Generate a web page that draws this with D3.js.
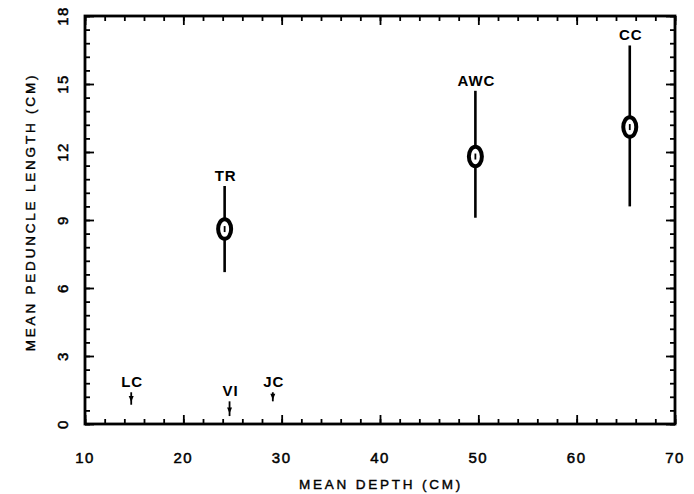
<!DOCTYPE html>
<html>
<head>
<meta charset="utf-8">
<script src="https://cdn.jsdelivr.net/npm/d3@7"></script>
<style>
  body { margin: 0; background: #fff; }
  text { fill: #000; }
</style>
</head>
<body>
<div id="chart"></div>
<script>
// site data
var sites = ["LC", "VI", "JC", "TR", "AWC", "CC"];
var depth = [14.7, 24.7, 29.1, 24.2, 49.7, 65.4];
var meanLen = [1.1, 0.6, 1.2, 8.6, 11.8, 13.1];
var lowLen = [0.85, 0.35, 1.0, 6.7, 9.1, 9.6];
var highLen = [1.4, 1.0, 1.4, 10.5, 14.7, 16.7];
// sites drawn as big ellipse markers vs small arrows
var bigMarker = [false, false, false, true, true, true];

var xTicks = [10, 20, 30, 40, 50, 60, 70];
var yTicks = [0, 3, 6, 9, 12, 15, 18];

var width = 694, height = 494;
// note: "top" is reserved on window, so use plot* names
var plotLeft = 85, plotRight = 675, plotTop = 16, plotBottom = 424;

var svg = d3.select("#chart").append("svg")
    .attr("width", width)
    .attr("height", height);

var x = d3.scaleLinear().domain([10, 70]).range([plotLeft, plotRight]);
var y = d3.scaleLinear().domain([0, 18]).range([plotBottom, plotTop]);

var xMinor = d3.range(10, 70.01, 2);
var yMinor = d3.range(0, 18.01, 0.6);

function tickAxis(axisFn, scale, values, size, tx, ty) {
    var g = svg.append("g")
        .attr("transform", "translate(" + tx + "," + ty + ")")
        .call(axisFn(scale).tickValues(values).tickSize(size).tickFormat(""));
    g.select(".domain").remove();
    g.selectAll("line").attr("stroke", "#000").attr("stroke-width", 1.8);
    return g;
}

// inward ticks on all four sides
tickAxis(d3.axisBottom, x, xMinor, -5, 0, plotBottom);
tickAxis(d3.axisBottom, x, xTicks, -9, 0, plotBottom);
tickAxis(d3.axisTop, x, xMinor, -5, 0, plotTop);
tickAxis(d3.axisTop, x, xTicks, -9, 0, plotTop);
tickAxis(d3.axisLeft, y, yMinor, -5, plotLeft, 0);
tickAxis(d3.axisLeft, y, yTicks, -9, plotLeft, 0);
tickAxis(d3.axisRight, y, yMinor, -5, plotRight, 0);
tickAxis(d3.axisRight, y, yTicks, -9, plotRight, 0);

// frame
svg.append("rect")
    .attr("x", plotLeft).attr("y", plotTop)
    .attr("width", plotRight - plotLeft).attr("height", plotBottom - plotTop)
    .attr("fill", "none")
    .attr("stroke", "#000")
    .attr("stroke-width", 2.8);

// tick labels
svg.selectAll(".xlab")
    .data(xTicks)
    .enter().append("text")
    .attr("x", function (d) { return x(d); })
    .attr("y", 463)
    .attr("text-anchor", "middle")
    .style("font-family", "Liberation Sans, Arial, sans-serif")
    .style("font-size", "15px")
    .style("letter-spacing", "1.5px")
    .style("stroke", "#000")
    .style("stroke-width", "0.5px")
    .text(function (d) { return d; });

svg.selectAll(".ylab")
    .data(yTicks)
    .enter().append("text")
    .attr("transform", function (d) { return "translate(68," + y(d) + ") rotate(-90)"; })
    .attr("text-anchor", "middle")
    .style("font-family", "Liberation Sans, Arial, sans-serif")
    .style("font-size", "15px")
    .style("letter-spacing", "1.5px")
    .style("stroke", "#000")
    .style("stroke-width", "0.5px")
    .text(function (d) { return d; });

// axis titles
svg.append("text")
    .attr("x", 381)
    .attr("y", 489)
    .attr("text-anchor", "middle")
    .style("font-family", "Liberation Sans, Arial, sans-serif")
    .style("font-size", "13.5px")
    .style("letter-spacing", "2.8px")
    .style("stroke", "#000")
    .style("stroke-width", "0.4px")
    .text("MEAN DEPTH (CM)");

svg.append("text")
    .attr("transform", "translate(35,212) rotate(-90)")
    .attr("text-anchor", "middle")
    .style("font-family", "Liberation Sans, Arial, sans-serif")
    .style("font-size", "13.5px")
    .style("letter-spacing", "2.8px")
    .style("stroke", "#000")
    .style("stroke-width", "0.4px")
    .text("MEAN PEDUNCLE LENGTH (CM)");

// marks
var rows = sites.map(function (s, i) {
    return { name: s, depth: depth[i], mean: meanLen[i], lo: lowLen[i], hi: highLen[i], big: bigMarker[i] };
});

var site = svg.selectAll(".site")
    .data(rows)
    .enter().append("g")
    .attr("class", "site");

site.append("line")
    .attr("x1", function (d) { return x(d.depth); })
    .attr("x2", function (d) { return x(d.depth); })
    .attr("y1", function (d) { return y(d.lo); })
    .attr("y2", function (d) { return y(d.hi); })
    .attr("stroke", "#000")
    .attr("stroke-width", function (d) { return d.big ? 2.6 : 1.8; });

var big = site.filter(function (d) { return d.big; });
big.append("ellipse")
    .attr("cx", function (d) { return x(d.depth); })
    .attr("cy", function (d) { return y(d.mean); })
    .attr("rx", 6.5)
    .attr("ry", 9.8)
    .attr("fill", "#fff")
    .attr("stroke", "#000")
    .attr("stroke-width", 4);
big.append("line")
    .attr("x1", function (d) { return x(d.depth); })
    .attr("x2", function (d) { return x(d.depth); })
    .attr("y1", function (d) { return y(d.mean) - 3; })
    .attr("y2", function (d) { return y(d.mean) + 3; })
    .attr("stroke", "#000")
    .attr("stroke-width", 1.8);

// small sites: short arrow with head at the mean
var small = site.filter(function (d) { return !d.big; });
small.append("path")
    .attr("d", function (d) {
        var cx = x(d.depth), cy = y(d.mean);
        return "M" + (cx - 2.5) + "," + (cy - 3) + "L" + (cx + 2.5) + "," + (cy - 3) + "L" + cx + "," + (cy + 3) + "Z";
    })
    .attr("fill", "#000");

site.append("text")
    .attr("x", function (d) { return x(d.depth) + 1; })
    .attr("y", function (d) { return y(d.hi) - 5; })
    .attr("text-anchor", "middle")
    .style("font-family", "Liberation Sans, Arial, sans-serif")
    .style("font-weight", "bold")
    .style("font-size", "15px")
    .style("letter-spacing", "1px")
    .text(function (d) { return d.name; });
</script>
</body>
</html>
